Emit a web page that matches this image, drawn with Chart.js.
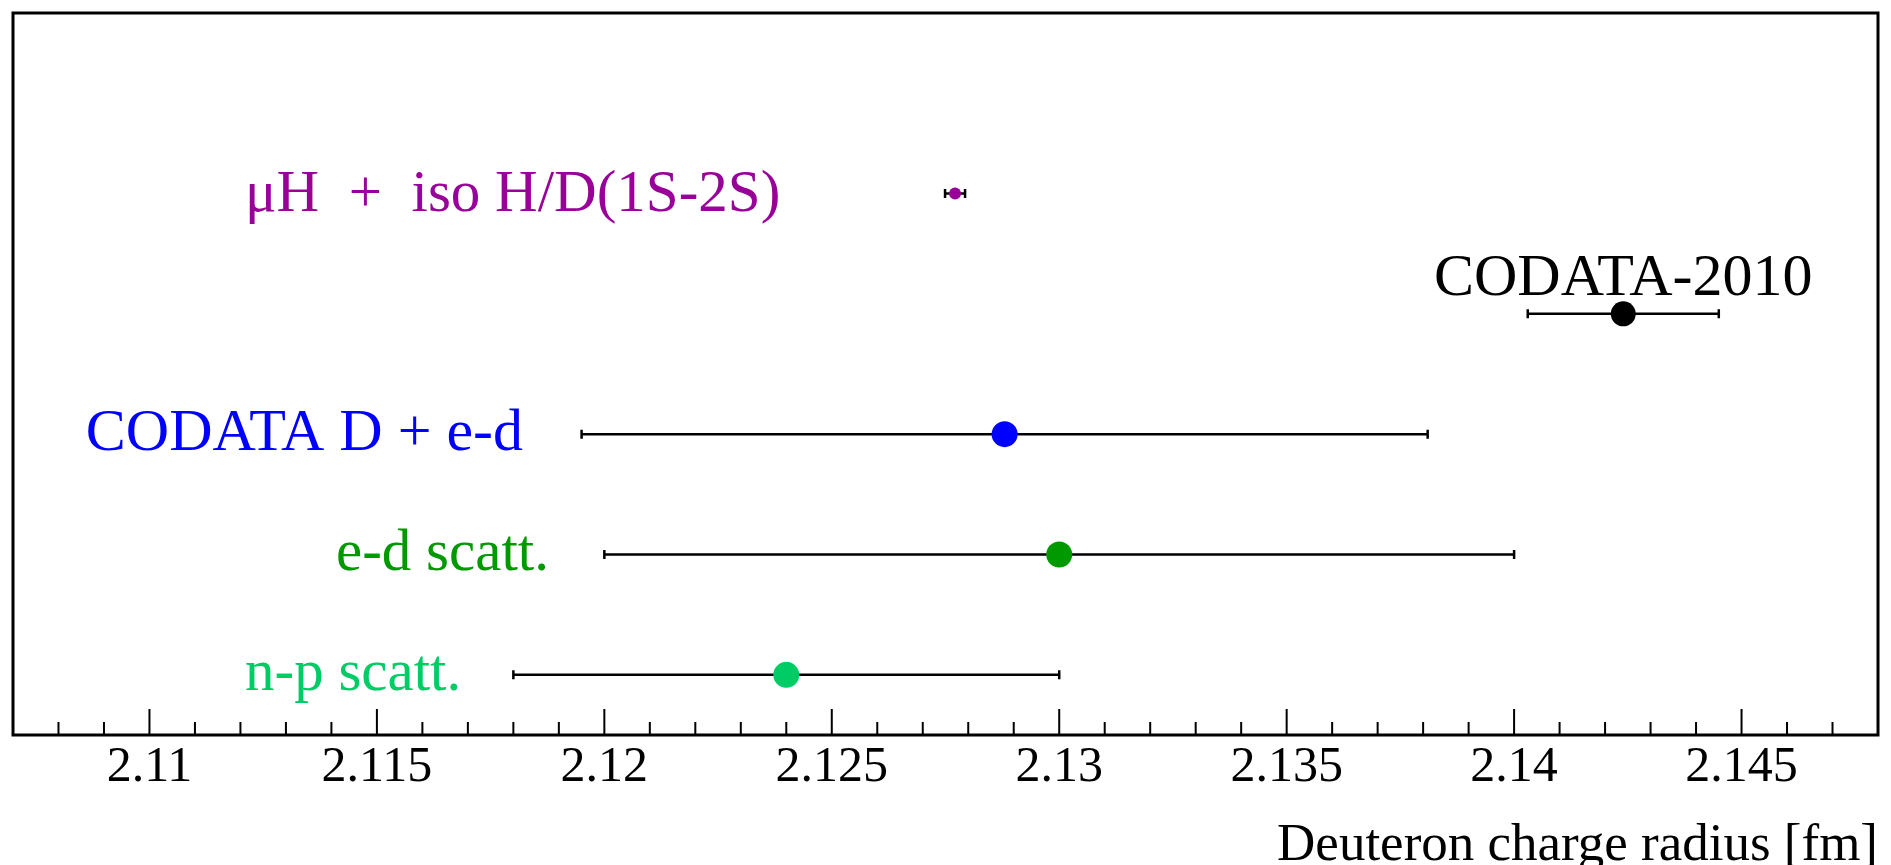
<!DOCTYPE html>
<html>
<head>
<meta charset="utf-8">
<script src="https://cdn.jsdelivr.net/npm/chart.js@4"></script>
<style>
  body { margin: 0; background: #fff; }
</style>
</head>
<body>
<canvas id="radiusChart" width="1891" height="865"></canvas>
<script>
// measurements, top row first
const measurements = ['μH  +  iso H/D(1S-2S)', 'CODATA-2010', 'CODATA D + e-d', 'e-d scatt.', 'n-p scatt.'];
const radius = [2.12771, 2.1424, 2.1288, 2.130, 2.124];
const radiusErr = [0.00022, 0.0021, 0.0093, 0.010, 0.006];
const rows = [5, 4, 3, 2, 1];
const colors = ['#990099', '#000000', '#0000ff', '#009900', '#00cc66'];
const tickValues = [2.11, 2.115, 2.12, 2.125, 2.13, 2.135, 2.14, 2.145];
const tickLabels = ['2.11', '2.115', '2.12', '2.125', '2.13', '2.135', '2.14', '2.145'];

// where each label sits (x in fm, y in row units)
const labelX = [2.1121, 2.1424, 2.1086, 2.1141, 2.1121];
const labelY = [4.98, 4.16, 3, 2, 1];
const labelAlign = ['left', 'center', 'left', 'left', 'left'];
const labelSizes = [59, 60, 60, 59, 59];
const pointSizes = [6, 12.5, 13, 13, 13];

const serif = "'Liberation Serif', 'Times New Roman', serif";

const framePlugin = {
  id: 'frame',
  beforeDatasetsDraw(chart) {
    const ctx = chart.ctx;
    const x = chart.scales.x, y = chart.scales.y;
    // error bars
    ctx.save();
    ctx.strokeStyle = '#000';
    ctx.lineWidth = 2.5;
    radius.forEach((r, i) => {
      const x1 = x.getPixelForValue(r - radiusErr[i]);
      const x2 = x.getPixelForValue(r + radiusErr[i]);
      const py = y.getPixelForValue(rows[i]);
      ctx.beginPath();
      ctx.moveTo(x1, py); ctx.lineTo(x2, py);
      ctx.moveTo(x1, py - 4.5); ctx.lineTo(x1, py + 4.5);
      ctx.moveTo(x2, py - 4.5); ctx.lineTo(x2, py + 4.5);
      ctx.stroke();
    });
    ctx.restore();
  },
  afterDatasetsDraw(chart) {
    const ctx = chart.ctx;
    const x = chart.scales.x, y = chart.scales.y;
    ctx.save();
    measurements.forEach((m, i) => {
      ctx.font = labelSizes[i] + 'px ' + serif;
      ctx.fillStyle = colors[i];
      ctx.textAlign = labelAlign[i];
      ctx.textBaseline = labelAlign[i] === 'center' ? 'alphabetic' : 'middle';
      ctx.fillText(m, x.getPixelForValue(labelX[i]), y.getPixelForValue(labelY[i]));
    });
    ctx.restore();
  },
  afterDraw(chart) {
    const ctx = chart.ctx;
    const a = chart.chartArea;
    const x = chart.scales.x;
    ctx.save();
    ctx.strokeStyle = '#000';
    ctx.lineWidth = 3;
    ctx.strokeRect(a.left, a.top, a.right - a.left, a.bottom - a.top);
    // ticks pointing into the plot
    ctx.lineWidth = 2;
    ctx.beginPath();
    for (let i = 2108; i <= 2147; i++) {
      const px = x.getPixelForValue(i / 1000);
      const len = i % 5 === 0 ? 26 : 13;
      ctx.moveTo(px, a.bottom);
      ctx.lineTo(px, a.bottom - len);
    }
    ctx.stroke();
    ctx.restore();
  }
};

new Chart(document.getElementById('radiusChart'), {
  type: 'scatter',
  data: {
    datasets: measurements.map((m, i) => ({
      label: m,
      data: [{ x: radius[i], y: rows[i] }],
      backgroundColor: colors[i],
      borderColor: colors[i],
      pointRadius: pointSizes[i],
      pointHoverRadius: pointSizes[i],
      borderWidth: 0
    }))
  },
  options: {
    responsive: false,
    animation: false,
    layout: { padding: { left: 11, right: 11, top: 7, bottom: 0 } },
    plugins: {
      legend: { display: false },
      tooltip: { enabled: false }
    },
    scales: {
      x: {
        type: 'linear',
        min: 2.107,
        max: 2.148,
        afterBuildTicks: (scale) => { scale.ticks = tickValues.map(v => ({ value: v })); },
        afterFit: (scale) => { scale.height = 130; },
        grid: { display: false, drawTicks: false },
        border: { display: false },
        ticks: {
          autoSkip: false,
          maxRotation: 0,
          padding: 3,
          color: '#000',
          font: { family: serif, size: 50 },
          callback: (v, idx) => tickLabels[idx]
        },
        title: {
          display: true,
          text: 'Deuteron charge radius [fm]',
          align: 'end',
          color: '#000',
          padding: 0,
          font: { family: serif, size: 53, lineHeight: 0.7 }
        }
      },
      y: {
        display: false,
        min: 0.5,
        max: 6.5
      }
    }
  },
  plugins: [framePlugin]
});
</script>
</body>
</html>
